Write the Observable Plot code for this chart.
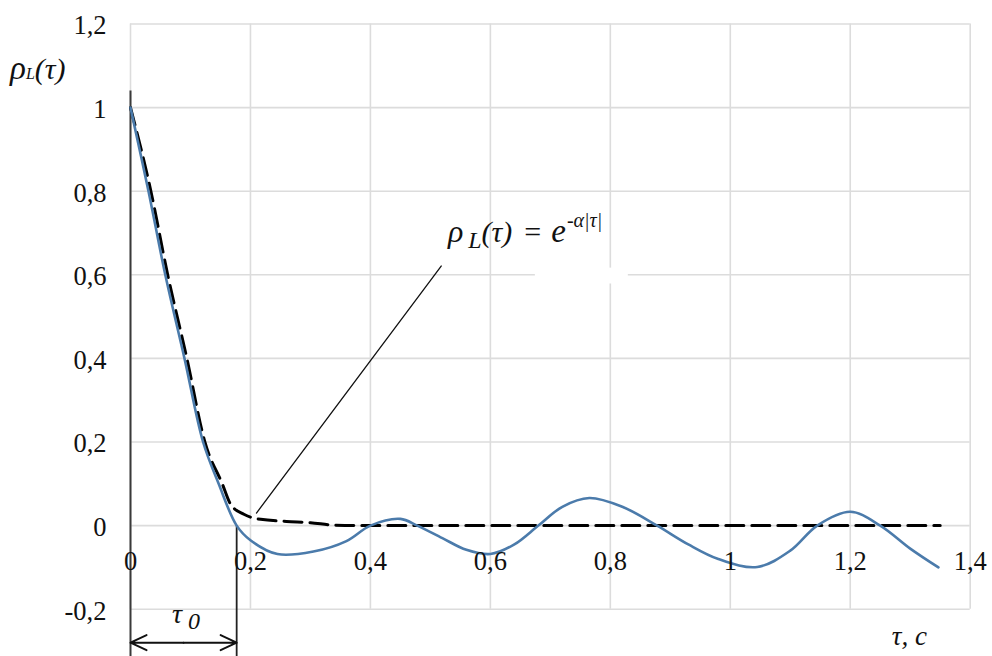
<!DOCTYPE html>
<html><head><meta charset="utf-8">
<script src="https://cdn.jsdelivr.net/npm/d3@7"></script>
<script src="https://cdn.jsdelivr.net/npm/@observablehq/plot@0.6"></script>
<style>html,body{margin:0;padding:0;background:#fff;} #chart{width:992px;height:656px;overflow:hidden}</style>
</head><body><div id="chart"></div>
<script>
// Measured autocorrelation (solid blue)
const tauMeasured = [0, 0.03, 0.058, 0.09, 0.121, 0.147, 0.177, 0.2, 0.245, 0.305, 0.36, 0.4, 0.45, 0.478, 0.52, 0.56, 0.6, 0.64, 0.68, 0.72, 0.765, 0.82, 0.878, 0.93, 0.98, 1.045, 1.1, 1.145, 1.2, 1.25, 1.3, 1.347];
const rhoMeasured = [1, 0.8, 0.6, 0.4, 0.2, 0.1, 0, -0.035, -0.068, -0.062, -0.037, 0, 0.016, 0, -0.03, -0.058, -0.068, -0.045, 0, 0.045, 0.066, 0.045, 0, -0.045, -0.08, -0.099, -0.06, 0, 0.033, 0, -0.055, -0.1];
// Exponential approximation (black dashed)
const tauExp = [0, 0.034, 0.062, 0.094, 0.124, 0.153, 0.167, 0.189, 0.217, 0.26, 0.3, 0.34, 0.38, 0.6, 1.0, 1.35];
const rhoExp = [1, 0.8, 0.6, 0.4, 0.2, 0.1, 0.051, 0.027, 0.015, 0.01, 0.007, 0.001, 0, 0, 0, 0];

const xTicks = [0, 0.2, 0.4, 0.6, 0.8, 1, 1.2, 1.4];
const xTickLabels = ["0", "0,2", "0,4", "0,6", "0,8", "1", "1,2", "1,4"];
const yTicks = [-0.2, 0, 0.2, 0.4, 0.6, 0.8, 1, 1.2];
const yTickLabels = ["-0,2", "0", "0,2", "0,4", "0,6", "0,8", "1", "1,2"];

// annotations (data coordinates)
const tau0 = 0.177;
const axisSpan = [1.04, -0.314];
const leaderT = [0.21, 0.518];
const leaderV = [0.03, 0.621];
const maskT = [0.675, 0.83];
const maskV = [0.578, 0.616];
const arrowV = -0.28;
const tau0LabelPos = [0.07, -0.235];
const formulaPos = [0.53, 0.678];
const yTitlePos = [-0.2, 1.068];
const xTitlePos = [1.27, -0.288];

const measured = tauMeasured.map((t, i) => ({t, v: rhoMeasured[i]}));
const expo = tauExp.map((t, i) => ({t, v: rhoExp[i]}));
const leader = leaderT.map((t, i) => ({t, v: leaderV[i]}));
const tickX = xTicks.map((t, i) => ({t, label: xTickLabels[i]}));
const tickY = yTicks.map((v, i) => ({v, label: yTickLabels[i]}));
const tauMid = tau0 / 2;

const serif = "Liberation Serif";
const chart = Plot.plot({
  width: 992, height: 656,
  marginLeft: 130, marginRight: 22.3, marginTop: 23.5, marginBottom: 47.3,
  x: {domain: [0, 1.4], axis: null},
  y: {domain: [-0.2, 1.2], axis: null},
  style: {fontFamily: serif, fontSize: "26px", background: "white", color: "#111", overflow: "visible"},
  marks: [
    Plot.ruleX(xTicks, {y1: -0.2, y2: 1.2, stroke: "#dcdcdc", strokeWidth: 1.6}),
    Plot.ruleY(yTicks, {x1: 0, x2: 1.4, stroke: "#dcdcdc", strokeWidth: 1.6}),
    Plot.rect([0], {x1: maskT[0], x2: maskT[1], y1: maskV[0], y2: maskV[1], fill: "white"}),
    Plot.ruleX([0], {y1: axisSpan[0], y2: axisSpan[1], stroke: "#3a3a3a", strokeWidth: 2}),
    Plot.ruleX([tau0], {y1: 0, y2: axisSpan[1], stroke: "#222", strokeWidth: 1.8}),
    Plot.arrow([0], {x1: tauMid, x2: 0, y1: arrowV, y2: arrowV, stroke: "#111", strokeWidth: 2, headLength: 14, headAngle: 50}),
    Plot.arrow([0], {x1: tauMid, x2: tau0, y1: arrowV, y2: arrowV, stroke: "#111", strokeWidth: 2, headLength: 14, headAngle: 50}),
    Plot.line(leader, {x: "t", y: "v", stroke: "#111", strokeWidth: 1.3}),
    Plot.line(expo, {x: "t", y: "v", curve: "monotone-x", stroke: "#000", strokeWidth: 3, strokeDasharray: "18,8"}),
    Plot.line(measured, {x: "t", y: "v", curve: "catmull-rom", stroke: "#4b7bab", strokeWidth: 2.6}),
    Plot.text(tickX, {x: "t", y: 0, text: "label", dy: 36, textAnchor: "middle", lineAnchor: "middle", fontSize: 26.5, fontFamily: serif, fill: "#111"}),
    Plot.text(tickY, {x: 0, y: "v", text: "label", dx: -24, dy: 2, textAnchor: "end", lineAnchor: "middle", fontSize: 26.5, fontFamily: serif, fill: "#111"})
  ]
});
document.getElementById("chart").append(chart);

const xs = chart.scale("x"), ys = chart.scale("y");
const svg = d3.select(chart);
const addText = (pos, parts) => {
  const t = svg.append("text")
    .attr("x", xs.apply(pos[0])).attr("y", ys.apply(pos[1]))
    .attr("text-anchor", "start")
    .attr("font-family", serif).attr("fill", "#111");
  parts.forEach(p => {
    const s = t.append("tspan").text(p.text).attr("font-size", p.size);
    if (p.italic) s.attr("font-style", "italic");
    if (p.dy) s.attr("dy", p.dy);
    if (p.dx) s.attr("dx", p.dx);
  });
};
addText(yTitlePos, [
  {text: "ρ", size: 33, italic: true},
  {text: "L", size: 16, italic: true},
  {text: "(τ)", size: 30, italic: true}
]);
addText(formulaPos, [
  {text: "ρ", size: 32, italic: true},
  {text: "L", size: 24, italic: true, dx: 5, dy: 6},
  {text: "(τ)", size: 30, italic: true, dy: -6},
  {text: "=", size: 30, dx: 12},
  {text: "e", size: 33, italic: true, dx: 10},
  {text: "-α|τ|", size: 20, italic: true, dy: -15, dx: 1}
]);
addText(tau0LabelPos, [
  {text: "τ", size: 28, italic: true},
  {text: "0", size: 24, italic: true, dx: 6, dy: 6}
]);
addText(xTitlePos, [
  {text: "τ, c", size: 27, italic: true}
]);
</script>
</body></html>
